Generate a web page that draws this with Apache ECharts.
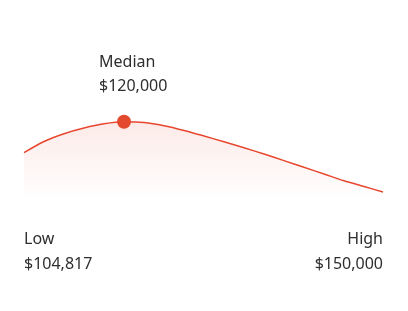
<!DOCTYPE html>
<html><head><meta charset="utf-8">
<script src="https://cdn.jsdelivr.net/npm/echarts@6/dist/echarts.min.js"></script>
<style>html,body{margin:0;padding:0;background:#fff}#c{width:408px;height:311px}</style>
</head><body><div id="c"></div>
<script>
// position along the salary range (0..100) and curve height
const xs = [0, 5.57, 11.14, 16.71, 22.28, 27.86, 33.43, 39.0, 44.57, 50.14, 55.71, 61.28, 66.85, 72.42, 77.99, 83.57, 89.14, 94.71, 100];
const ys = [47.3, 58.5, 66.3, 72, 76.2, 78.2, 77.4, 74.2, 69.5, 64, 58.2, 52.2, 46, 39.4, 32.7, 26, 19.2, 13.5, 8];
const peakIndex = 5;
const labels = { median: ["Median", "$120,000"], low: ["Low", "$104,817"], high: ["High", "$150,000"] };

const chart = echarts.init(document.getElementById('c'));
const font = '"Noto Sans", "Open Sans", sans-serif';
const tc = '#2e2e2e';
function txt(x, y, t, align) {
  return { type: 'text', x: x, y: y, style: { text: t, fill: tc, font: '16px ' + font, textAlign: align || 'left', textVerticalAlign: 'top' } };
}
chart.setOption({
  animation: false,
  grid: { left: 24, right: 25, top: 100, bottom: 111 },
  xAxis: { type: 'value', min: 0, max: 100, show: false },
  yAxis: { type: 'value', min: 0, max: 100, show: false },
  series: [{
    type: 'line',
    data: xs.map((x, i) => [x, ys[i]]),
    smooth: 0.3,
    showSymbol: false,
    lineStyle: { color: '#e8472f', width: 1.5 },
    areaStyle: {
      color: new echarts.graphic.LinearGradient(0, 0, 0, 1, [
        { offset: 0, color: 'rgba(232,71,47,0.16)' },
        { offset: 1, color: 'rgba(232,71,47,0)' }
      ])
    }
  }, {
    type: 'scatter',
    data: [[xs[peakIndex], ys[peakIndex]]],
    symbolSize: 14,
    itemStyle: { color: '#e2492d', opacity: 1 },
    z: 5
  }],
  graphic: [
    txt(99, 54, labels.median[0]),
    txt(99, 78, labels.median[1]),
    txt(24, 231, labels.low[0]),
    txt(24, 256, labels.low[1]),
    txt(383, 231, labels.high[0], 'right'),
    txt(383, 256, labels.high[1], 'right')
  ]
});
</script></body></html>
